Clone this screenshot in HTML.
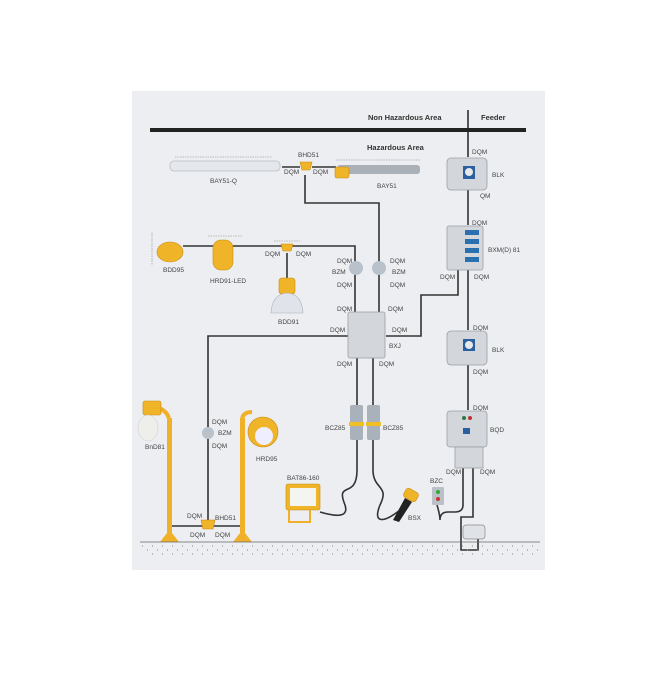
<!DOCTYPE html>
<html><head><meta charset="utf-8"><style>
html,body{margin:0;padding:0;background:#fff;}
svg{display:block;}
text{font-family:"Liberation Sans",sans-serif;font-size:6.5px;fill:#444;}
.b{font-weight:bold;font-size:7.5px;fill:#333;}
.w{stroke:#333;stroke-width:1.6;fill:none;}
.box{fill:#d3d7db;stroke:#9aa0a6;stroke-width:0.8;}
.y{fill:#f0b429;stroke:#c98a10;stroke-width:0.6;}
.pole{fill:#f0b02a;}
</style></head><body>
<svg width="671" height="683" viewBox="0 0 671 683" xmlns="http://www.w3.org/2000/svg">
<rect x="132" y="91" width="413" height="479" fill="#eceef1"/>
<rect x="150" y="128" width="376" height="4" fill="#222"/>
<line x1="468" y1="110" x2="468" y2="157" stroke="#222" stroke-width="1.5"/>
<text class="b" x="368" y="120">Non Hazardous Area</text>
<text class="b" x="481" y="120">Feeder</text>
<text class="b" x="367" y="150">Hazardous Area</text>

<path class="w" d="M282 167 H300 M312 167 H336"/>
<path class="w" d="M305 175 V203 H379 V312"/>
<path class="w" d="M183 246 H355 V312"/>
<path class="w" d="M287 253 V278"/>
<path class="w" d="M468 190 V225"/>
<path class="w" d="M458 270 V295 H421 V336 H386"/>
<path class="w" d="M468 270 V330"/>
<path class="w" d="M468 365 V410"/>
<path class="w" d="M348 336 H208 V526"/>
<path class="w" d="M170 526 H242"/>
<path class="w" d="M357 358 V405 M373 358 V405"/>
<path class="w" d="M357 440 V470 C357 500,335 480,345 505 C350 520,330 515,320 512"/>
<path class="w" d="M373 440 V470 C373 490,390 485,380 505 C372 525,385 522,400 510"/>
<path class="w" d="M463 468 V505 Q463 512 455 512 H448 Q440 512 440 520 Q440 515 437 505"/>
<path class="w" d="M473 468 V517 H461 V550 H478 V537"/>

<line x1="175" y1="157" x2="272" y2="157" stroke="#888" stroke-width="0.6" stroke-dasharray="1.5 1"/>
<rect x="170" y="161" width="110" height="10" rx="4" fill="#e4e8ec" stroke="#b8bec4" stroke-width="0.8"/>
<text x="210" y="183">BAY51-Q</text>
<path class="y" d="M300 162 h12 l-2 8 h-8 z"/>
<text x="298" y="157">BHD51</text>
<text x="284" y="174">DQM</text><text x="313" y="174">DQM</text>
<line x1="336" y1="160" x2="420" y2="160" stroke="#888" stroke-width="0.6" stroke-dasharray="1.5 1"/>
<rect x="337" y="165" width="83" height="9" rx="3" fill="#a9b0b8"/>
<rect x="335" y="167" width="14" height="11" rx="2" class="y"/>
<text x="377" y="188">BAY51</text>

<text x="472" y="154">DQM</text>
<rect x="447" y="158" width="40" height="32" rx="4" class="box"/>
<rect x="463" y="166" width="12" height="13" fill="#2a5fa0"/><circle cx="469" cy="172" r="4" fill="#e8e8e8"/>
<text x="492" y="177">BLK</text>
<text x="480" y="198">QM</text>
<text x="472" y="225">DQM</text>
<rect x="447" y="226" width="36" height="44" rx="2" class="box"/>
<g fill="#2a6fb0"><rect x="465" y="230" width="14" height="5"/><rect x="465" y="239" width="14" height="5"/><rect x="465" y="248" width="14" height="5"/><rect x="465" y="257" width="14" height="5"/></g>
<text x="488" y="252">BXM(D) 81</text>
<text x="440" y="279">DQM</text><text x="474" y="279">DQM</text>

<line x1="152" y1="233" x2="152" y2="265" stroke="#888" stroke-width="0.6" stroke-dasharray="1.5 1"/>
<ellipse cx="170" cy="252" rx="13" ry="10" class="y"/>
<text x="163" y="272">BDD95</text>
<line x1="208" y1="236" x2="243" y2="236" stroke="#888" stroke-width="0.6" stroke-dasharray="1.5 1"/>
<rect x="213" y="240" width="20" height="30" rx="8" class="y"/>
<text x="210" y="283">HRD91-LED</text>
<line x1="274" y1="241" x2="300" y2="241" stroke="#888" stroke-width="0.6" stroke-dasharray="1.5 1"/>
<path class="y" d="M281 244 h12 l-2 7 h-8 z"/>
<text x="265" y="256">DQM</text><text x="296" y="256">DQM</text>
<rect x="279" y="278" width="16" height="16" rx="3" class="y"/>
<path d="M271 313 Q272 294 287 293 Q302 294 303 313 Z" fill="#e0e4ea" stroke="#a8b0b8" stroke-width="0.6"/>
<text x="278" y="324">BDD91</text>

<text x="337" y="263">DQM</text><text x="390" y="263">DQM</text>
<text x="332" y="274">BZM</text><text x="392" y="274">BZM</text>
<text x="337" y="287">DQM</text><text x="390" y="287">DQM</text>
<circle cx="356" cy="268" r="7" fill="#b9c1ca"/><circle cx="379" cy="268" r="7" fill="#b9c1ca"/>
<text x="337" y="311">DQM</text><text x="388" y="311">DQM</text>
<rect x="348" y="312" width="37" height="46" rx="2" class="box"/>
<text x="330" y="332">DQM</text><text x="392" y="332">DQM</text>
<text x="389" y="348">BXJ</text>
<text x="337" y="366">DQM</text><text x="379" y="366">DQM</text>

<text x="473" y="330">DQM</text>
<rect x="447" y="331" width="40" height="34" rx="4" class="box"/>
<rect x="463" y="339" width="12" height="12" fill="#2a5fa0"/><circle cx="469" cy="345" r="4" fill="#e8e8e8"/>
<text x="492" y="352">BLK</text>
<text x="473" y="374">DQM</text>
<text x="473" y="410">DQM</text>
<rect x="447" y="411" width="40" height="36" rx="3" class="box"/>
<rect x="455" y="447" width="28" height="21" class="box"/>
<circle cx="464" cy="418" r="2" fill="#2a7a4a"/><circle cx="470" cy="418" r="2" fill="#b33"/>
<rect x="463" y="428" width="7" height="6" fill="#2a5fa0"/>
<text x="490" y="432">BQD</text>
<text x="446" y="474">DQM</text><text x="480" y="474">DQM</text>
<text x="430" y="483">BZC</text>
<rect x="432" y="487" width="12" height="18" rx="1" fill="#b9c0c8"/>
<circle cx="438" cy="492" r="2" fill="#3a3"/><circle cx="438" cy="499" r="2" fill="#c33"/>
<rect x="463" y="525" width="22" height="14" rx="3" fill="#dfe3e7" stroke="#888" stroke-width="0.7"/>

<rect x="350" y="405" width="13" height="35" rx="2" fill="#a9b1ba"/><rect x="349" y="422" width="15" height="4" fill="#f0c020"/>
<rect x="367" y="405" width="13" height="35" rx="2" fill="#a9b1ba"/><rect x="366" y="422" width="15" height="4" fill="#f0c020"/>
<text x="325" y="430">BCZ85</text><text x="383" y="430">BCZ85</text>
<text x="287" y="480">BAT86-160</text>
<rect x="286" y="484" width="34" height="26" rx="2" class="y"/><rect x="290" y="488" width="26" height="18" fill="#f4f4f0"/>
<path d="M289 510 V522 H310 V510" stroke="#f0b02a" stroke-width="2" fill="none"/>
<path d="M393 520 L405 498 L412 502 L399 522 Z" fill="#222"/>
<rect x="404" y="490" width="14" height="10" rx="3" transform="rotate(30 411 495)" class="y"/>
<text x="408" y="520">BSX</text>

<rect x="167" y="418" width="5" height="124" class="pole"/>
<path d="M169 418 Q166 410 158 408" stroke="#f0b02a" stroke-width="4" fill="none"/>
<rect x="143" y="401" width="18" height="14" rx="2" class="y"/>
<ellipse cx="148" cy="428" rx="10" ry="13" fill="#eeeeea" stroke="#ccc" stroke-width="0.5"/>
<path d="M160 542 L167 533 H172 L179 542 Z" fill="#f0b02a"/>
<text x="145" y="449">BnD81</text>
<rect x="240" y="418" width="5" height="124" class="pole"/>
<path d="M242 418 Q244 412 252 412" stroke="#f0b02a" stroke-width="4" fill="none"/>
<circle cx="263" cy="432" r="15" class="y"/><circle cx="264" cy="436" r="9" fill="#eef"/>
<path d="M233 542 L240 533 H245 L252 542 Z" fill="#f0b02a"/>
<text x="256" y="461">HRD95</text>
<circle cx="208" cy="433" r="6" fill="#b9c1ca"/>
<text x="212" y="424">DQM</text><text x="218" y="435">BZM</text><text x="212" y="448">DQM</text>
<path class="y" d="M201 520 h14 l-2 9 h-10 z"/>
<text x="187" y="518">DQM</text><text x="215" y="520">BHD51</text>
<text x="190" y="537">DQM</text><text x="215" y="537">DQM</text>

<line x1="140" y1="542" x2="540" y2="542" stroke="#666" stroke-width="0.7"/>
<g stroke="#888" stroke-width="1" stroke-dasharray="1 9">
<line x1="142" y1="546" x2="540" y2="546"/>
<line x1="147" y1="550" x2="540" y2="550"/>
<line x1="152" y1="554" x2="540" y2="554"/>
</g>
</svg>
</body></html>
